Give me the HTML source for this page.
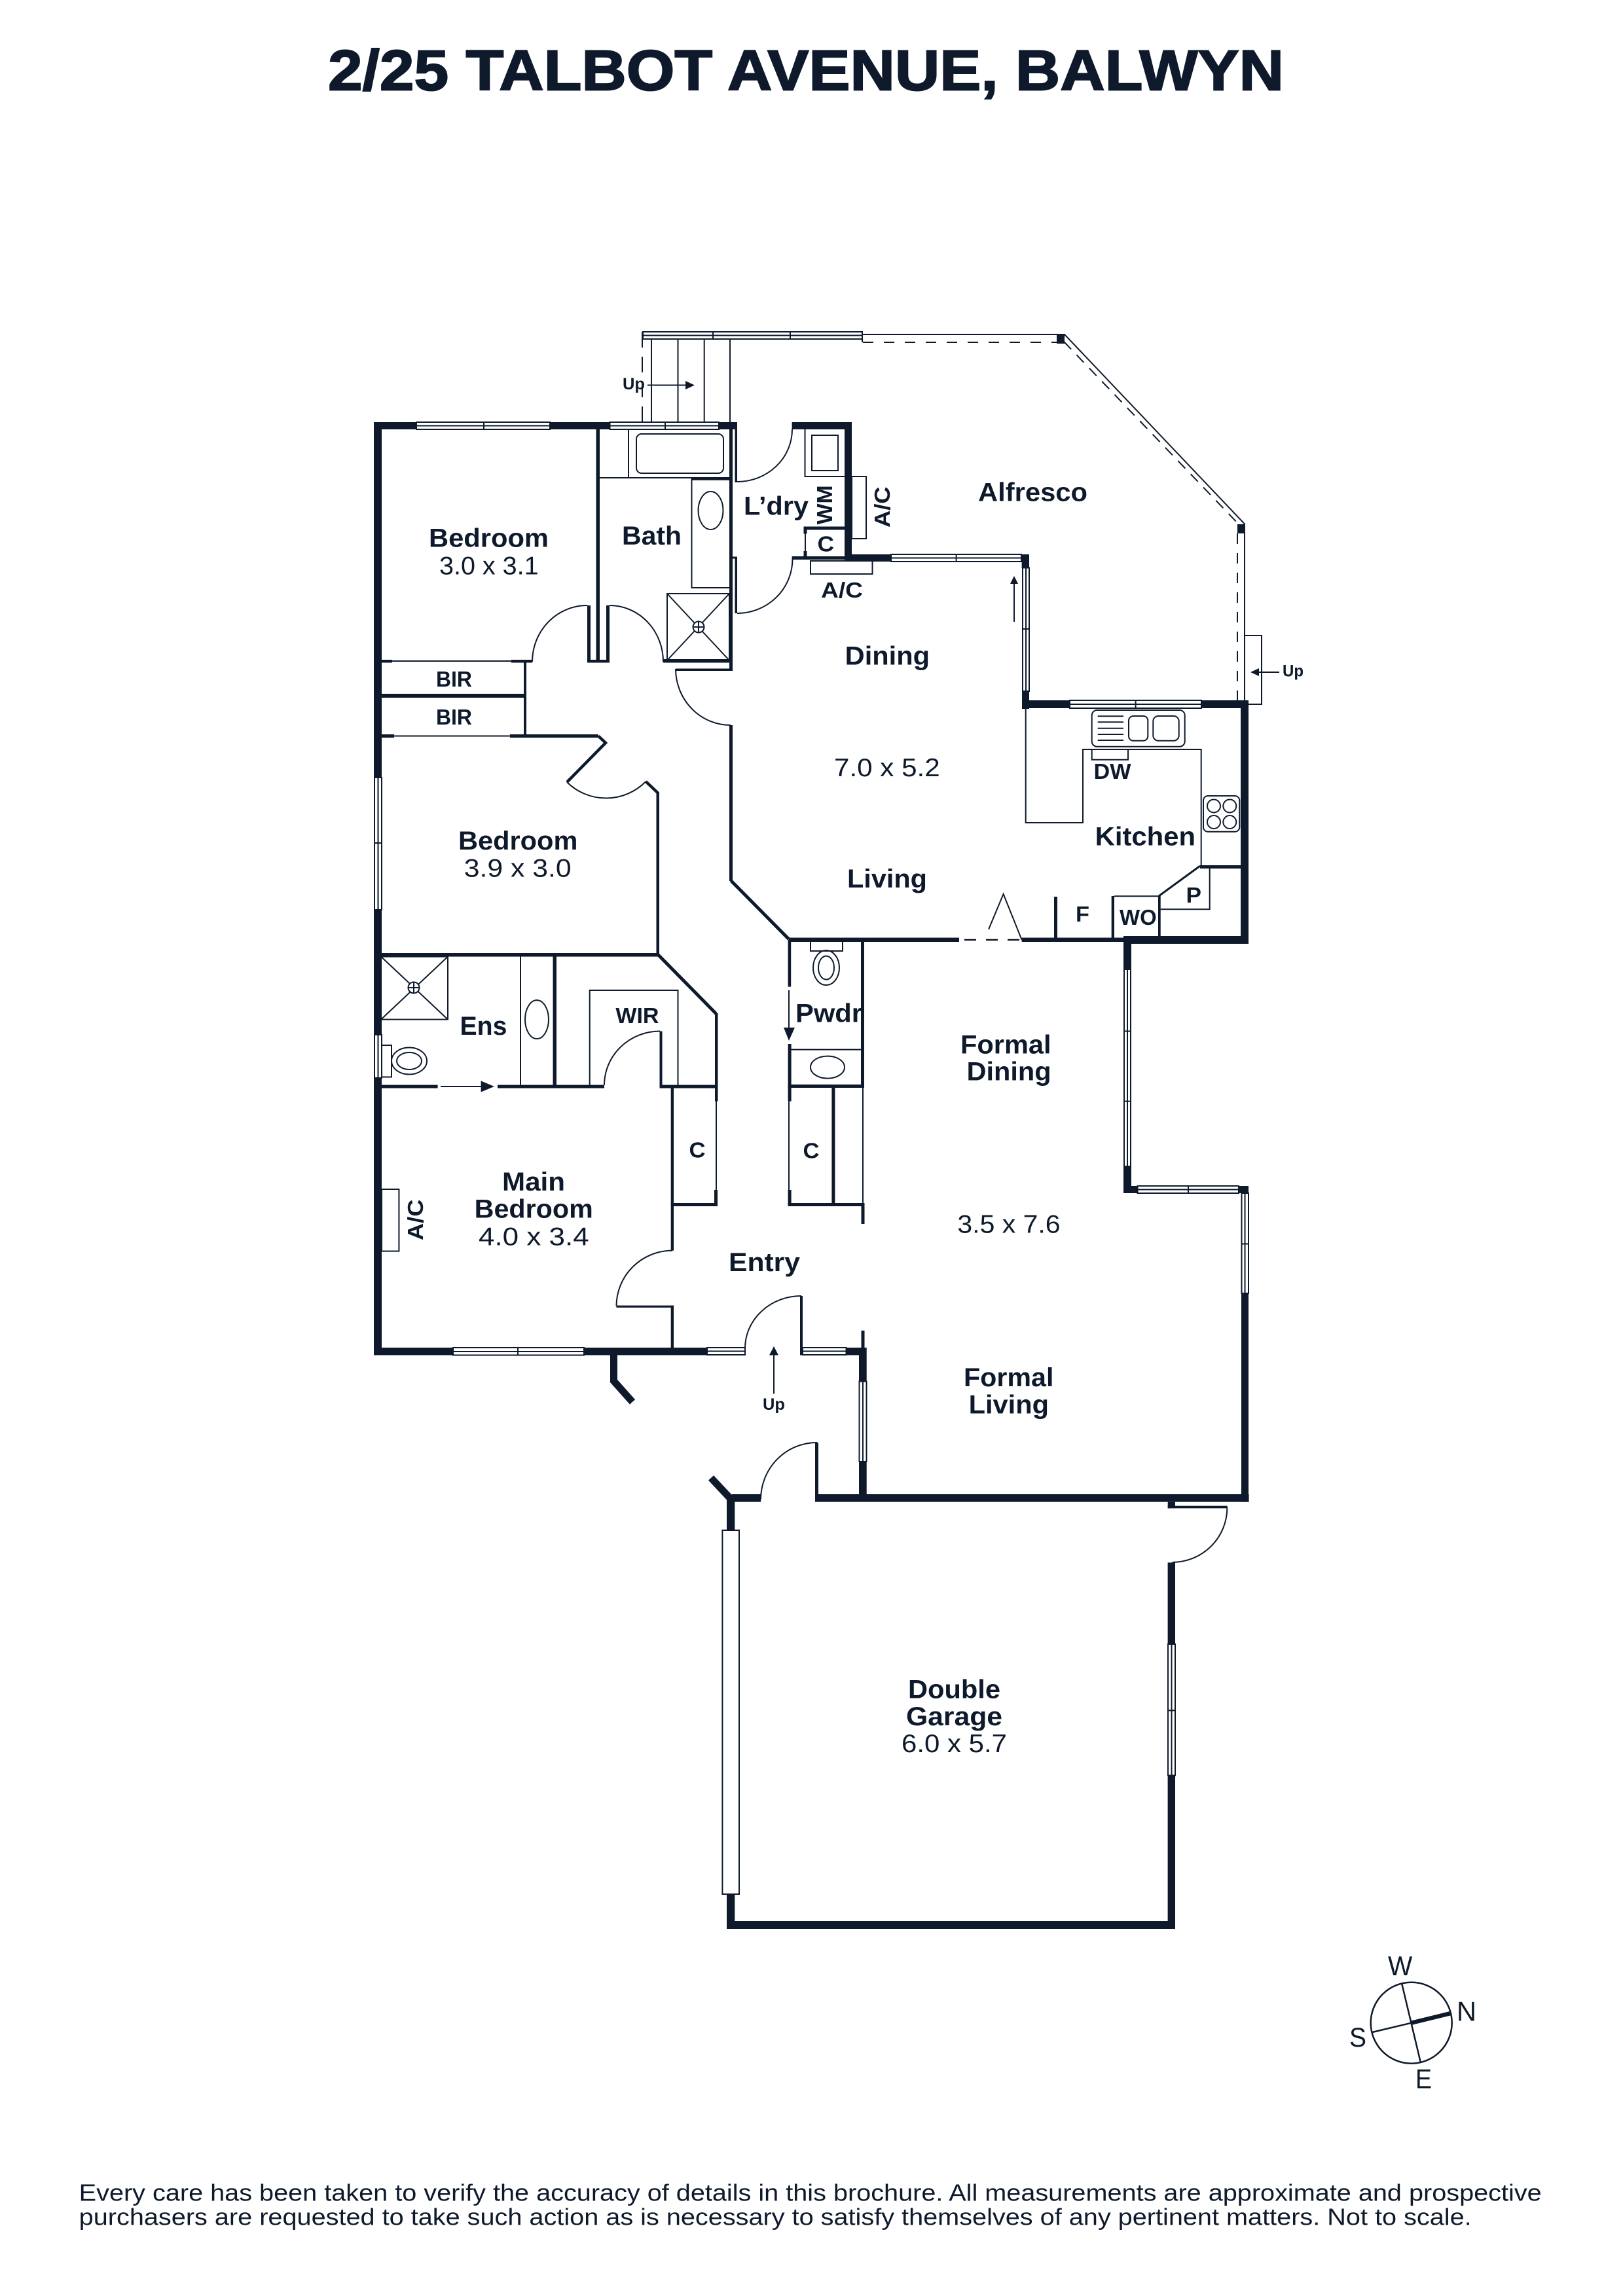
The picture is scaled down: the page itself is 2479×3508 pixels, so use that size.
<!DOCTYPE html>
<html><head><meta charset="utf-8"><title>2/25 Talbot Avenue, Balwyn</title>
<style>
html,body{margin:0;padding:0;background:#fff}
svg{display:block}
text{font-family:"Liberation Sans",sans-serif;fill:#0e1a2b}
.b{font-weight:bold;font-size:40px}
.s{font-weight:bold;font-size:33px}
.u{font-weight:bold;font-size:25px}
.r{font-size:39px}
.d{font-size:42px}
.f{font-size:36px}
.t{fill:none;stroke:#0e1a2b;stroke-width:2}
.k{fill:#0e1a2b;stroke:none}
.w{fill:#fff;stroke:#0e1a2b;stroke-width:2}
</style></head><body>
<svg xmlns="http://www.w3.org/2000/svg" width="2479" height="3508" viewBox="0 0 2479 3508">
<rect width="2479" height="3508" fill="#fff"/>

<!-- walls -->
<g class="k">
<rect x="571" y="645" width="12" height="1425.5"/>
<rect x="571" y="645" width="555" height="11"/>
<rect x="571" y="2059" width="567" height="11.5"/>
<rect x="1222" y="2059" width="101" height="11.5"/>
<rect x="1222" y="1980" width="4" height="90.5"/>
<rect x="910.5" y="656" width="5.5" height="356"/>
<rect x="897" y="925" width="5" height="87"/>
<rect x="926" y="925" width="5" height="87"/>
<rect x="897" y="1008" width="34" height="4.5"/>
<rect x="1114" y="656" width="5" height="369"/>
<rect x="1122.5" y="656" width="3.5" height="81"/>
<rect x="1119" y="850.5" width="7" height="3"/>
<rect x="1122.5" y="850.5" width="3.5" height="86.5"/>
<rect x="1013" y="1007" width="106" height="5.5"/>
<rect x="1032" y="1021.5" width="87" height="3.5"/>
<rect x="1114" y="1108" width="5" height="238"/>
<rect x="1209.6" y="645" width="91.4" height="11"/>
<rect x="1290" y="645" width="11" height="212"/>
<rect x="1229.5" y="804.5" width="60.5" height="5"/>
<rect x="1227.5" y="804.5" width="5" height="11"/>
<rect x="1227.5" y="842" width="5" height="9"/>
<rect x="1209.6" y="850" width="81" height="5"/>
<rect x="1290" y="847" width="71" height="11"/>
<rect x="1560.6" y="847" width="11.4" height="21"/>
<rect x="1561" y="1056" width="11" height="27"/>
<rect x="1561" y="1070" width="345.5" height="12"/>
<rect x="1895" y="1070" width="12" height="372"/>
<rect x="1716" y="1430" width="191" height="12"/>
<rect x="1716" y="1430" width="12" height="393"/>
<rect x="1716" y="1812" width="21.5" height="11"/>
<rect x="1892" y="1812" width="15" height="11"/>
<rect x="1896" y="1812" width="11" height="482.7"/>
<rect x="1312" y="2059" width="11.7" height="235"/>
<rect x="1315.5" y="2033" width="5" height="26"/>
<rect x="1245" y="2283" width="662.6" height="11.7"/>
<rect x="1117.7" y="2283" width="44.3" height="11.7"/>
<rect x="1245" y="2204" width="5" height="90"/>
<rect x="1110" y="2288" width="12.3" height="50"/>
<rect x="1110" y="2894" width="12.3" height="53"/>
<rect x="1110" y="2935" width="685" height="12"/>
<rect x="1783.6" y="2387.4" width="11.4" height="559.6"/>
<rect x="1783.7" y="2294.7" width="11.3" height="9.7"/>
<rect x="1783.7" y="2300.7" width="91" height="3.7"/>
<!-- BIR -->
<rect x="582" y="1008" width="17" height="4.5"/>
<rect x="781" y="1008" width="32" height="4.5"/>
<rect x="800" y="1012" width="4" height="112"/>
<rect x="582" y="1060" width="222" height="6"/>
<rect x="582" y="1122" width="20" height="5"/>
<rect x="779" y="1122" width="135" height="5"/>
<!-- centre rooms -->
<rect x="1002.5" y="1210" width="4.5" height="251"/>
<rect x="582" y="1456" width="424" height="5.6"/>
<rect x="844.5" y="1461" width="5.5" height="197"/>
<rect x="582" y="1657.6" width="86.6" height="5"/>
<rect x="760" y="1657.6" width="163" height="5"/>
<rect x="1007.5" y="1575.5" width="4" height="87"/>
<rect x="1007.5" y="1657.6" width="86" height="5"/>
<rect x="1092" y="1548" width="4.5" height="134.6"/>
<rect x="1024.7" y="1662" width="4.3" height="248.7"/>
<rect x="1024.7" y="1838" width="71.3" height="5"/>
<rect x="1091" y="1818" width="5" height="25"/>
<rect x="941.5" y="1994.6" width="87.5" height="3.2"/>
<rect x="1024.7" y="1994.6" width="4.3" height="65"/>
<!-- pwdr -->
<rect x="1205" y="1432.6" width="260" height="6.4"/>
<rect x="1560.7" y="1432.6" width="155.3" height="6.4"/>
<rect x="1203.6" y="1436" width="4.6" height="71.6"/>
<rect x="1203.6" y="1595" width="5" height="87.6"/>
<rect x="1203.6" y="1818" width="5" height="25"/>
<rect x="1315" y="1436" width="5" height="226"/>
<rect x="1203.6" y="1657" width="116.4" height="5"/>
<rect x="1270.4" y="1662" width="5" height="181"/>
<rect x="1203.6" y="1838" width="116.4" height="5"/>
<rect x="1315.5" y="1838" width="5" height="32"/>
<!-- kitchen -->
<rect x="1610" y="1370" width="5" height="63"/>
<rect x="1697.7" y="1369" width="4.3" height="64"/>
<rect x="1769" y="1369" width="3.7" height="61"/>
<rect x="1833" y="1322" width="63" height="5"/>
<rect x="1614" y="511" width="12" height="14"/>
<rect x="1890" y="801" width="11" height="14"/>
</g>
<path d="M937.5 2070V2110L966 2142" fill="none" stroke="#0e1a2b" stroke-width="11"/>
<path d="M1086 2258L1116 2290" fill="none" stroke="#0e1a2b" stroke-width="11"/>
<path d="M914 1124.6L925 1135L866 1195" fill="none" stroke="#0e1a2b" stroke-width="4.5"/>
<path d="M986.4 1194L1005 1211.6" fill="none" stroke="#0e1a2b" stroke-width="4.5"/>
<path d="M1116.5 1345.5L1205 1435" fill="none" stroke="#0e1a2b" stroke-width="5"/>
<path d="M1005 1458.5L1093.6 1548.6" fill="none" stroke="#0e1a2b" stroke-width="5"/>

<!-- thin structure -->
<g class="t">
<path d="M599 1010H781M602 1124.5H779"/>
<path d="M1205 1682.6V1818M1094 1662V1818M1318 1662V1838"/>
<path d="M897 925A84 86 0 0 0 813 1011M931 925A82 86 0 0 1 1013 1011"/>
<path d="M1126 736A84 80 0 0 0 1210 656M1126 937A84.5 83 0 0 0 1210.5 854"/>
<path d="M1032 1022A84 86 0 0 0 1116 1108"/>
<path d="M866 1195A85 85 0 0 0 986.4 1194"/>
<path d="M923 1658A85 82.5 0 0 1 1008 1575.5"/>
<path d="M1027 1910.7A85.5 84.8 0 0 0 941.5 1995.5"/>
<path d="M1138 2060A86 80 0 0 1 1224 1980"/>
<path d="M1162 2291A86 87 0 0 1 1248 2204"/>
<path d="M1874.4 2303.4A84 83.6 0 0 1 1790.5 2387"/>
<!-- deck and alfresco -->
<path d="M995 518V645M1035.5 518V645M1075.7 518V645M1115 518V645"/>
<path d="M1317 511H1626L1901 800.5V1070"/>
<path d="M981 507V645" stroke-dasharray="24 14"/>
<path d="M1318 523H1614" stroke-dasharray="16 16"/>
<path d="M1317 511V523"/>
<path d="M1625 522L1892 801" stroke-dasharray="16 12"/>
<path d="M1890 815V1070" stroke-dasharray="16 14"/>
<rect x="1901" y="971" width="26" height="105"/>
<rect x="1301" y="728" width="22" height="95"/>
<rect x="1238" y="857" width="94.5" height="20"/>
<rect x="583" y="1817" width="26.4" height="94.6"/>
<!-- bath -->
<path d="M916 730H1114M960 656V730"/>
<rect x="972" y="663" width="133" height="60" rx="8"/>
<path d="M1114 898H1056.5V732H1114"/>
<path d="M1056.5 732H1114" stroke-width="3.5"/>
<ellipse cx="1085.5" cy="780" rx="19" ry="29"/>
<rect x="1019" y="907" width="95" height="102"/>
<path d="M1019 907L1114 1009M1114 907L1019 1009"/>
<circle cx="1067" cy="958" r="8.5" fill="#fff"/>
<path d="M1058.5 958H1075.5M1067 949.5V966.5"/>
<!-- laundry -->
<path d="M1229.5 656V728H1290"/>
<rect x="1240" y="665" width="40" height="54"/>
<path d="M1230 815V842"/>
<!-- ens -->
<rect x="582" y="1461.6" width="102" height="96"/>
<path d="M582 1461.6L684 1557.6M684 1461.6L582 1557.6"/>
<circle cx="632" cy="1509" r="8.5" fill="#fff"/>
<path d="M623.5 1509H640.5M632 1500.5V1517.5"/>
<path d="M795 1461V1658"/>
<ellipse cx="820" cy="1557.6" rx="18" ry="29.5"/>
<rect x="583" y="1597" width="15" height="48.5"/>
<ellipse cx="625" cy="1621" rx="27" ry="20.5"/>
<ellipse cx="625" cy="1621" rx="19" ry="13"/>
<path d="M900.7 1658V1513H1035.5V1658"/>
<!-- pwdr fixtures -->
<path d="M1238 1439V1453H1287V1439"/>
<ellipse cx="1262" cy="1478.6" rx="20" ry="26.5"/>
<ellipse cx="1262" cy="1478.6" rx="12" ry="18"/>
<path d="M1208 1603.6H1315"/>
<ellipse cx="1264" cy="1630.6" rx="26" ry="17"/>
<!-- kitchen -->
<path d="M1566.7 1082V1257H1654V1145H1834.7V1323"/>
<rect x="1667.7" y="1085" width="142" height="55.7" rx="8"/>
<path d="M1676.7 1094.3H1716M1676.7 1103.3H1716M1676.7 1112.7H1716M1676.7 1122H1716M1676.7 1131H1716"/>
<rect x="1724" y="1094" width="29.3" height="37.7" rx="7"/>
<rect x="1761.3" y="1094" width="39.4" height="37.7" rx="8"/>
<path d="M1667.7 1145V1160.7H1723V1145"/>
<rect x="1838" y="1216" width="55.3" height="54.7" rx="7"/>
<circle cx="1854" cy="1231.5" r="10"/><circle cx="1878.3" cy="1231.5" r="10"/>
<circle cx="1854" cy="1256" r="10"/><circle cx="1878.3" cy="1256" r="10"/>
<path d="M1770 1369L1833 1323" stroke-width="3"/>
<path d="M1847.7 1327V1389.3H1772.7"/>
<path d="M1702 1369.3H1770"/>
<path d="M1510 1420L1532.6 1366L1560.7 1436"/>
<path d="M1465 1436H1560" stroke-width="2.5" stroke-dasharray="18 15" stroke-dashoffset="-8"/>
</g>

<!-- windows -->
<g>
<g class="w">
<rect x="982" y="507" width="335" height="11"/>
<rect x="636" y="645" width="204" height="11"/>
<rect x="931.5" y="645" width="166.5" height="11"/>
<rect x="1361" y="847" width="199" height="11"/>
<rect x="1634" y="1070" width="201" height="12"/>
<rect x="692" y="2059" width="200" height="11.5"/>
<rect x="1080" y="2059" width="58" height="11"/>
<rect x="1226" y="2059" width="66.5" height="11"/>
<rect x="1737.5" y="1812" width="154.5" height="11"/>
<rect x="1562" y="867.5" width="10" height="188.5"/>
<rect x="572" y="1188" width="11" height="202"/>
<rect x="572" y="1581" width="11" height="66"/>
<rect x="1717" y="1481" width="10" height="301"/>
<rect x="1896.5" y="1823" width="10.5" height="153"/>
<rect x="1312.5" y="2110.6" width="11" height="122.4"/>
<rect x="1784" y="2512" width="11" height="200.6"/>
<rect x="1103.4" y="2338" width="25.6" height="556"/>
</g>
<path class="t" d="M982 512.5H1317M1089 507V518M1207 507V518
M636 650.5H840M739 645V656
M931.5 650.5H1098M1016 645V656
M1361 852.5H1560M1460.6 847V858
M1634 1076H1835M1734.6 1070V1082
M692 2065H892M791 2059V2070.5
M1080 2064.5H1138M1226 2064.5H1292.5
M1737.5 1817.5H1892M1815 1812V1823
M1567 867.5V1056M1562 961H1572
M577.5 1188V1390M572 1288H583
M577.5 1581V1647
M1722 1481V1782M1717 1575.5H1727M1717 1682.6H1727
M1901.5 1823V1976M1896.5 1900.5H1907
M1318 2110.6V2233
M1789.5 2512V2712.6M1784 2613.4H1795"/>
</g>

<!-- arrows -->
<g>
<path class="t" d="M989 588.5H1050M1549 950V890M1954 1027H1920M673 1660H740M1205 1513V1575M1182 2129.5V2065"/>
<path class="k" d="M1061 588.5L1047 582V595ZM1549 880L1543 892H1555ZM1910 1027L1923 1021V1033ZM755 1660L734.6 1651.5V1668.5ZM1205 1590L1197 1570H1214ZM1182 2057L1175 2070.5H1189Z"/>
</g>

<!-- compass -->
<circle cx="2155.7" cy="3090.7" r="62" fill="none" stroke="#0e1a2b" stroke-width="2.5"/>
<path d="M2141 3030L2170 3151.7M2096 3105L2156 3090.7" fill="none" stroke="#0e1a2b" stroke-width="2.5"/>
<path d="M2156 3090.7L2216 3076" fill="none" stroke="#0e1a2b" stroke-width="6.5"/>
<text class="d" x="2120" y="3018" textLength="37.3" lengthAdjust="spacingAndGlyphs">W</text>
<text class="d" x="2225" y="3087.3" textLength="30" lengthAdjust="spacingAndGlyphs">N</text>
<text class="d" x="2061" y="3127" textLength="26" lengthAdjust="spacingAndGlyphs">S</text>
<text class="d" x="2162" y="3190.7" textLength="25" lengthAdjust="spacingAndGlyphs">E</text>

<!-- title and footer -->
<text x="501" y="137.3" font-size="87" font-weight="bold" stroke="#0e1a2b" stroke-width="2" textLength="1460" lengthAdjust="spacingAndGlyphs">2/25 TALBOT AVENUE, BALWYN</text>
<text class="f" x="120.7" y="3362.3" textLength="2234" lengthAdjust="spacingAndGlyphs">Every care has been taken to verify the accuracy of details in this brochure. All measurements are approximate and prospective</text>
<text class="f" x="120.7" y="3399.3" textLength="2127" lengthAdjust="spacingAndGlyphs">purchasers are requested to take such action as is necessary to satisfy themselves of any pertinent matters. Not to scale.</text>

<!-- labels -->
<g>
<text class="b" x="655" y="835.4" textLength="183" lengthAdjust="spacingAndGlyphs">Bedroom</text>
<text class="r" x="671" y="877.3" textLength="151.6" lengthAdjust="spacingAndGlyphs">3.0 x 3.1</text>
<text class="b" x="950" y="831.8" textLength="91" lengthAdjust="spacingAndGlyphs">Bath</text>
<text class="b" x="1136" y="786.7" textLength="99" lengthAdjust="spacingAndGlyphs">L’dry</text>
<text class="s" transform="translate(1271 801.4) rotate(-90)" font-size="34" textLength="60" lengthAdjust="spacingAndGlyphs">WM</text>
<text class="s" transform="translate(1359 806) rotate(-90)" textLength="62.5" lengthAdjust="spacingAndGlyphs">A/C</text>
<text class="s" x="1248.5" y="842.5" textLength="25.5" lengthAdjust="spacingAndGlyphs">C</text>
<text class="s" x="1254" y="913" textLength="64" lengthAdjust="spacingAndGlyphs">A/C</text>
<text class="b" x="1494" y="765.7" textLength="167" lengthAdjust="spacingAndGlyphs">Alfresco</text>
<text class="b" x="1290.7" y="1015.7" textLength="129.3" lengthAdjust="spacingAndGlyphs">Dining</text>
<text class="u" x="1959" y="1033.6" textLength="32" lengthAdjust="spacingAndGlyphs">Up</text>
<text class="u" x="951" y="595" textLength="34" lengthAdjust="spacingAndGlyphs">Up</text>
<text class="u" x="1165" y="2154" textLength="34" lengthAdjust="spacingAndGlyphs">Up</text>
<text class="r" x="1274" y="1186" textLength="161.7" lengthAdjust="spacingAndGlyphs">7.0 x 5.2</text>
<text class="b" x="1294" y="1356" textLength="122" lengthAdjust="spacingAndGlyphs">Living</text>
<text class="b" x="1672.7" y="1291.7" textLength="153.3" lengthAdjust="spacingAndGlyphs">Kitchen</text>
<text class="s" x="1670.5" y="1190" textLength="57" lengthAdjust="spacingAndGlyphs">DW</text>
<text class="s" x="1811.5" y="1379" textLength="23.5" lengthAdjust="spacingAndGlyphs">P</text>
<text class="s" x="1643" y="1408" textLength="21" lengthAdjust="spacingAndGlyphs">F</text>
<text class="s" x="1710" y="1413" textLength="56.7" lengthAdjust="spacingAndGlyphs">WO</text>
<text class="b" x="1467" y="1609.7" textLength="138.6" lengthAdjust="spacingAndGlyphs">Formal</text>
<text class="b" x="1476.5" y="1650.5" textLength="129.1" lengthAdjust="spacingAndGlyphs">Dining</text>
<text class="b" x="1215" y="1561.7" textLength="102" lengthAdjust="spacingAndGlyphs">Pwdr</text>
<text class="s" x="1226.5" y="1769.4" textLength="25" lengthAdjust="spacingAndGlyphs">C</text>
<text class="s" x="1052.5" y="1768.7" textLength="25" lengthAdjust="spacingAndGlyphs">C</text>
<text class="b" x="700" y="1297.8" textLength="182.4" lengthAdjust="spacingAndGlyphs">Bedroom</text>
<text class="r" x="708.8" y="1339.7" textLength="163.8" lengthAdjust="spacingAndGlyphs">3.9 x 3.0</text>
<text class="s" x="666" y="1049" textLength="55" lengthAdjust="spacingAndGlyphs">BIR</text>
<text class="s" x="666" y="1107" textLength="55" lengthAdjust="spacingAndGlyphs">BIR</text>
<text class="b" x="702.5" y="1580.8" textLength="71.9" lengthAdjust="spacingAndGlyphs">Ens</text>
<text class="s" x="940.4" y="1563" textLength="66.1" lengthAdjust="spacingAndGlyphs">WIR</text>
<text class="b" x="767" y="1819" textLength="96" lengthAdjust="spacingAndGlyphs">Main</text>
<text class="b" x="724.7" y="1860.7" textLength="181.1" lengthAdjust="spacingAndGlyphs">Bedroom</text>
<text class="r" x="731" y="1902.7" textLength="168.7" lengthAdjust="spacingAndGlyphs">4.0 x 3.4</text>
<text class="s" transform="translate(646 1895) rotate(-90)" textLength="62.4" lengthAdjust="spacingAndGlyphs">A/C</text>
<text class="b" x="1113" y="1942" textLength="109" lengthAdjust="spacingAndGlyphs">Entry</text>
<text class="r" x="1462.4" y="1883.3" textLength="157.2" lengthAdjust="spacingAndGlyphs">3.5 x 7.6</text>
<text class="b" x="1472" y="2118" textLength="137.4" lengthAdjust="spacingAndGlyphs">Formal</text>
<text class="b" x="1479.6" y="2159.5" textLength="122.4" lengthAdjust="spacingAndGlyphs">Living</text>
<text class="b" x="1387" y="2594.4" textLength="141" lengthAdjust="spacingAndGlyphs">Double</text>
<text class="b" x="1384" y="2636" textLength="147" lengthAdjust="spacingAndGlyphs">Garage</text>
<text class="r" x="1377" y="2676.8" textLength="161" lengthAdjust="spacingAndGlyphs">6.0 x 5.7</text>
</g>
</svg>
</body></html>
